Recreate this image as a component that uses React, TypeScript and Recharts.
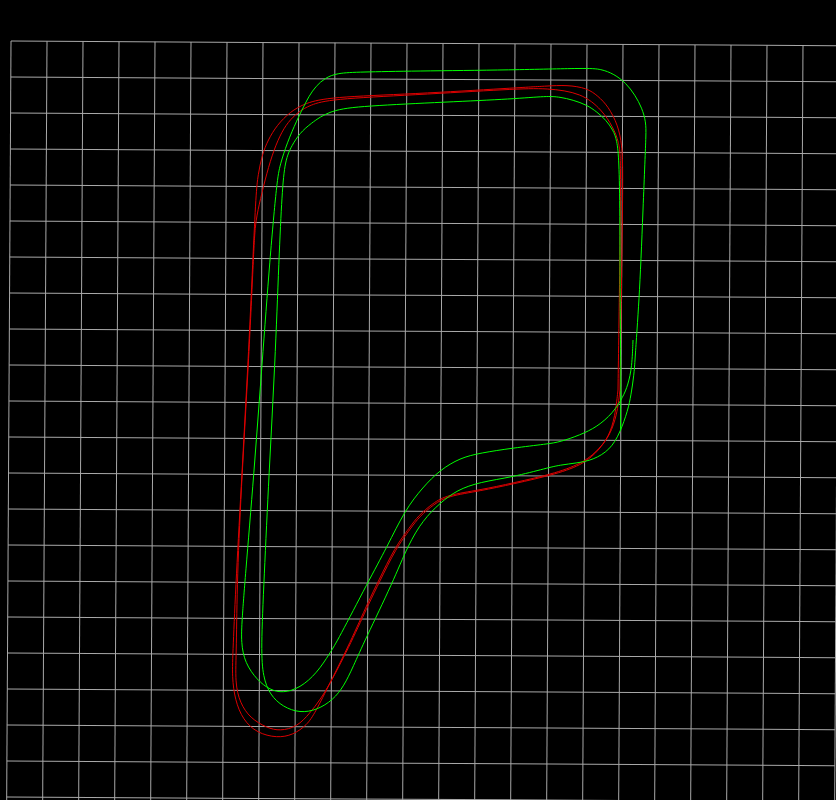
import React from 'react';
import { LineChart, Line, XAxis, YAxis, CartesianGrid } from 'recharts';

// grid ticks, one cell = 36 px
const GRID_X_TICKS = [0, 36, 72, 108, 144, 180, 216, 252, 288, 324, 360, 396, 432, 468, 504, 540, 576, 612, 648, 684, 720, 756, 792, 828];
const GRID_Y_TICKS = [0, 36, 72, 108, 144, 180, 216, 252, 288, 324, 360, 396, 432, 468, 504, 540, 576, 612, 648, 684, 720, 756, 792];

// green trace, two laps (starts on the right straight)
const greenLap1: [number, number][] = [
  [633, 340], [632, 367], [628, 385], [623, 397], [613, 413], [597, 427], [580, 435], [560, 442],
  [547, 444], [513, 448], [480, 453], [460, 458], [440, 470], [423, 487], [405, 510], [387, 547],
  [368, 582], [338, 640], [330, 653], [317, 673], [300, 688], [283, 693], [270, 690], [257, 680],
  [245, 663], [241, 643], [242, 620], [245, 580], [254, 473], [262, 365], [270, 257], [277, 180],
  [280, 165], [287, 143], [297, 120], [303, 108], [309, 96], [316, 86], [325, 78], [337, 73], [360, 72], [413, 71],
  [513, 70], [587, 68], [601, 69], [614, 74], [626, 83], [635, 95], [642, 108], [646, 122], [646, 135],
  [645, 160], [643, 210], [641, 260], [639, 300], [637, 330], [635, 360],
];

const greenLap2: [number, number][] = [
  [635, 360], [634, 375], [631, 395], [628, 410], [620, 433], [610, 450], [593, 460], [577, 463],
  [560, 465], [547, 468], [513, 477], [480, 482], [457, 490], [440, 503], [423, 520], [408, 545],
  [393, 582], [365, 640], [353, 667], [344, 686], [333, 700], [317, 710], [300, 713], [283, 707],
  [270, 695], [263, 677], [261, 650], [264, 580], [269, 473], [275, 365], [279, 257], [282, 193],
  [285, 160], [292, 145], [300, 133], [310, 124], [330, 110], [363, 106], [447, 102], [513, 99],
  [547, 96], [560, 97], [573, 100], [587, 105], [597, 112], [606, 120], [613, 130], [617, 140],
  [619, 160], [620, 210], [620, 300], [621, 380], [620.5, 430],
];

// red trace, two laps
const redLap1: [number, number][] = [
  [620, 390], [621, 320], [622, 250], [623, 170], [622, 145], [618, 125], [608, 106], [598, 96],
  [587, 88], [567, 85], [547, 86], [513, 88], [413, 94], [330, 97], [305, 103], [290, 112],
  [277, 125], [268, 140], [262, 155], [258, 175], [256, 193], [253, 257], [248, 365], [242, 473],
  [236, 580], [233, 650], [232, 677], [235, 700], [243, 720], [257, 733], [277, 738], [293, 735],
  [307, 725], [315, 713], [330, 683], [350, 643], [369, 600], [378, 582], [395, 547], [410, 527],
  [418, 516], [433, 503], [447, 495], [480, 490], [513, 483], [557, 473], [585, 462], [600, 448],
  [610, 435], [617, 415], [620, 390],
];

const redLap2: [number, number][] = [
  [618, 390], [619, 320], [620, 250], [621, 160], [619, 142], [613, 127], [602, 110], [582, 93],
  [547, 88], [513, 89], [413, 95], [330, 99], [310, 105], [298, 112], [288, 122], [280, 135],
  [272, 155], [265, 180], [259, 205], [255, 225], [253.5, 257], [248.5, 365], [242, 473], [237, 580],
  [236.5, 650], [235, 683], [240, 703], [250, 718], [267, 728], [280, 731], [297, 727], [310, 713],
  [320, 700], [331, 682], [351, 643], [370, 601], [379, 583], [396, 548], [411, 528], [419, 517],
  [434, 504], [448, 496], [480, 491], [513, 484], [557, 474], [584, 464], [599, 450], [609, 436],
  [615, 417], [618, 390],
];

const toPoints = (arr: [number, number][]) => arr.map(([x, y]) => ({ x, y }));

const GREEN = '#00ff00';
const RED = '#dd0000';

const traces = [
  { key: 'red1', data: toPoints(redLap1), color: RED },
  { key: 'red2', data: toPoints(redLap2), color: RED },
  { key: 'green1', data: toPoints(greenLap1), color: GREEN },
  { key: 'green2', data: toPoints(greenLap2), color: GREEN },
];

export default function App() {
  return (
    <div
      style={{
        position: 'fixed',
        left: 0,
        top: 0,
        width: 836,
        height: 800,
        background: '#000',
        overflow: 'hidden',
      }}
    >
      {/* grid layer, slightly rotated */}
      <div
        style={{
          position: 'absolute',
          left: 9,
          top: 39,
          transform: 'rotate(0.327deg)',
          transformOrigin: '2px 2px',
        }}
      >
        <LineChart width={832} height={796} margin={{ top: 2, right: 2, bottom: 2, left: 2 }}>
          <CartesianGrid stroke="#a8a8a8" strokeWidth={1} />
          <XAxis type="number" dataKey="x" domain={[0, 828]} ticks={GRID_X_TICKS} interval={0} allowDataOverflow hide />
          <YAxis type="number" dataKey="y" domain={[0, 792]} ticks={GRID_Y_TICKS} interval={0} allowDataOverflow reversed hide />
        </LineChart>
      </div>

      {/* trace layer */}
      <div style={{ position: 'absolute', left: 0, top: 0 }}>
        <LineChart width={836} height={800} margin={{ top: 0, right: 0, bottom: 0, left: 0 }}>
          <XAxis type="number" dataKey="x" domain={[0, 836]} allowDataOverflow hide />
          <YAxis type="number" dataKey="y" domain={[0, 800]} allowDataOverflow reversed hide />
          {traces.map((t) => (
            <Line
              key={t.key}
              data={t.data}
              dataKey="y"
              type="basis"
              stroke={t.color}
              strokeWidth={1}
              dot={false}
              activeDot={false}
              isAnimationActive={false}
            />
          ))}
        </LineChart>
      </div>
    </div>
  );
}
